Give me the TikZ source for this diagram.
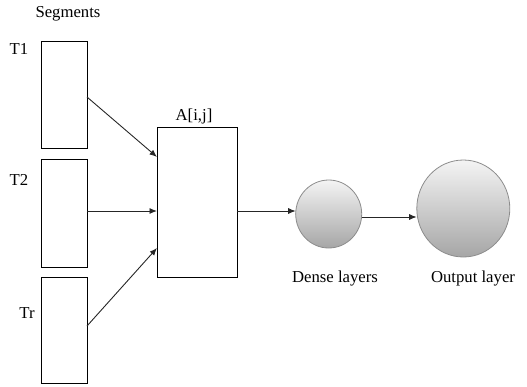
\documentclass[tikz,border=0pt]{standalone}
\usepackage{fontspec}
\setmainfont{Liberation Serif}
\usetikzlibrary{shapes.geometric,arrows.meta}
\definecolor{ballTop}{HTML}{F4F4F4}
\definecolor{ballBot}{HTML}{A6A6A6}
\definecolor{ballEdge}{HTML}{8C8C8C}
\tikzset{
  seg/.style={draw=black, line width=0.9pt, minimum width=46pt, minimum height=107pt, inner sep=0pt, anchor=north west},
  lbl/.style={font=\fontsize{16.7}{20}\selectfont, inner sep=0pt},
  ball/.style={ellipse, draw=ballEdge, line width=0.8pt, top color=ballTop, bottom color=ballBot, inner sep=0pt},
  conn/.style={draw=black!85, line width=0.9pt, -{Latex[length=7.5pt,width=6pt]}}
}
\begin{document}
\begin{tikzpicture}[x=1pt,y=-1pt]
\useasboundingbox (0,0) rectangle (527,386);
\node[seg] (t1) at (41,41) {};
\node[seg, minimum height=108pt] (t2) at (41,159) {};
\node[seg, minimum height=106pt] (tr) at (41,277) {};
\node[draw=black, line width=0.9pt, minimum width=80pt, minimum height=150pt, inner sep=0pt, anchor=north west] (A) at (157,127) {};
\node[ball, minimum width=66pt, minimum height=68pt] (dense) at (328.7,214) {};
\node[ball, minimum width=93pt, minimum height=97pt] (out) at (463.3,208.5) {};
\node[lbl] (lseg) at (68,14) {Segments};
\node[lbl] (lt1) at (19,49) {T1};
\node[lbl] (lt2) at (19,180) {T2};
\node[lbl] (ltr) at (27,313) {Tr};
\node[lbl] (lA) at (194,116) {A[i,j]};
\node[lbl] (ldense) at (335,279) {Dense layers};
\node[lbl] (lout) at (473,279) {Output layer};
\coordinate (t1o) at (87,97);
\coordinate (t2o) at (87,211);
\coordinate (tro) at (87,326);
\coordinate (a1) at (157,157);
\coordinate (a2) at (157,211);
\coordinate (a3) at (157,248);
\coordinate (ao) at (237,211);
\coordinate (di) at (295.7,211);
\coordinate (do) at (361.7,217);
\coordinate (oi) at (416.7,217);
\draw[conn] (t1o) -- (a1);
\draw[conn] (t2o) -- (a2);
\draw[conn] (tro) -- (a3);
\draw[conn] (ao) -- (di);
\draw[conn] (do) -- (oi);
\end{tikzpicture}
\end{document}
